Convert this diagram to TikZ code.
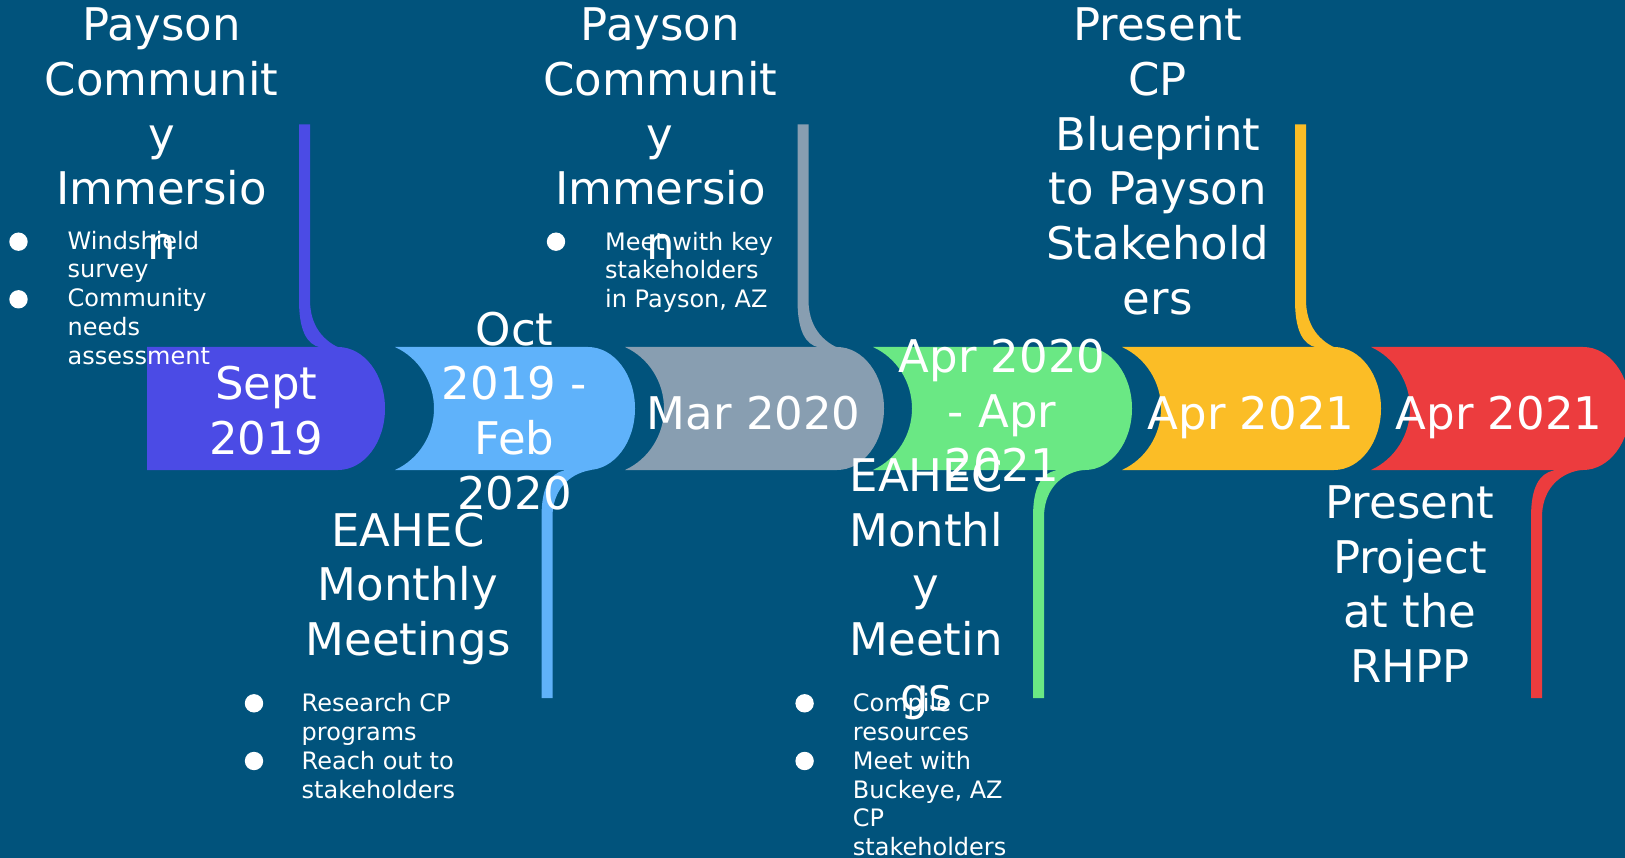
\documentclass[tikz,border=0pt]{standalone}
\usepackage{fontspec}
\setmainfont{DejaVu Sans}
\usepackage{tikz}

\definecolor{bgblue}{RGB}{1,83,124}
\definecolor{tlpurple}{RGB}{75,75,229}
\definecolor{tlblue}{RGB}{95,178,250}
\definecolor{tlgray}{RGB}{136,158,177}
\definecolor{tlgreen}{RGB}{106,232,132}
\definecolor{tlyellow}{RGB}{251,189,38}
\definecolor{tlred}{RGB}{236,60,62}

\begin{document}
\begin{tikzpicture}[x=1pt, y=-1pt]
        % Define styles
        \tikzstyle{datetext} = [text=white, align=center, inner sep=0pt,
            font=\fontsize{45}{54.7}\selectfont,
            execute at begin node=\strut, execute at end node=\strut]
        \tikzstyle{headtext} = [datetext]
        \tikzstyle{itemtext} = [text=white, align=left, inner sep=0pt, anchor=north west,
            font=\fontsize{24}{28.8}\selectfont,
            execute at begin node=\strut, execute at end node=\strut]
        \tikzstyle{bulletdot} = [circle, fill=white, inner sep=0pt, minimum size=18.4pt]

        % Background
        \fill[bgblue, use as bounding box] (0,0) rectangle (1625,858);

        % Timeline blocks
        \fill[tlpurple] (147,347) -- (147,470) -- (338,470) .. controls +(26,0) and +(0,34) .. (385,408.5)
            .. controls +(0,-34) and +(26,0) .. (338,347) -- cycle;
        \fill[tlblue] (395,347) .. controls +(24,11) and +(0,-26.3) .. (434,408.5)
            .. controls +(0,26.3) and +(24,-11) .. (395,470) -- (588,470)
            .. controls +(26,0) and +(0,34) .. (635,408.5) .. controls +(0,-34) and +(26,0) .. (588,347) -- cycle;
        \fill[tlgray] (625,347) .. controls +(24,11) and +(0,-26.3) .. (664,408.5)
            .. controls +(0,26.3) and +(24,-11) .. (625,470) -- (837,470)
            .. controls +(26,0) and +(0,34) .. (884,408.5) .. controls +(0,-34) and +(26,0) .. (837,347) -- cycle;
        \fill[tlgreen] (873,347) .. controls +(24,11) and +(0,-26.3) .. (912,408.5)
            .. controls +(0,26.3) and +(24,-11) .. (873,470) -- (1085,470)
            .. controls +(26,0) and +(0,34) .. (1132,408.5) .. controls +(0,-34) and +(26,0) .. (1085,347) -- cycle;
        \fill[tlyellow] (1122,347) .. controls +(24,11) and +(0,-26.3) .. (1161,408.5)
            .. controls +(0,26.3) and +(24,-11) .. (1122,470) -- (1334,470)
            .. controls +(26,0) and +(0,34) .. (1381,408.5) .. controls +(0,-34) and +(26,0) .. (1334,347) -- cycle;
        \fill[tlred] (1371,347) .. controls +(24,11) and +(0,-26.3) .. (1410,408.5)
            .. controls +(0,26.3) and +(24,-11) .. (1371,470) -- (1583,470)
            .. controls +(26,0) and +(0,34) .. (1630,408.5) .. controls +(0,-34) and +(26,0) .. (1583,347) -- cycle;

        % Stems going up
        \fill[tlpurple] (299,124.5) -- (299,300) .. controls +(0,30) and +(-14,-3) .. (320.5,347.5)
            -- (320.5,360) -- (344.5,360) -- (344.5,350) .. controls +(-22,-8) and +(0,25) .. (310,300)
            -- (310,124.5) -- cycle;
        \fill[tlgray] (797.5,124.5) -- (797.5,300) .. controls +(0,30) and +(-14,-3) .. (819,347.5)
            -- (819,360) -- (843,360) -- (843,350) .. controls +(-22,-8) and +(0,25) .. (808.5,300)
            -- (808.5,124.5) -- cycle;
        \fill[tlyellow] (1295,124.5) -- (1295,300) .. controls +(0,30) and +(-14,-3) .. (1316.5,347.5)
            -- (1316.5,360) -- (1340.5,360) -- (1340.5,350) .. controls +(-22,-8) and +(0,25) .. (1306,300)
            -- (1306,124.5) -- cycle;

        % Stems going down
        \fill[tlblue] (541.5,698) -- (541.5,517) .. controls +(0,-30) and +(-14,3) .. (564,470.5)
            -- (564,460) -- (591,460) -- (591,470) .. controls +(-24,4) and +(0,-25) .. (552.5,517)
            -- (552.5,698) -- cycle;
        \fill[tlgreen] (1033,698) -- (1033,517) .. controls +(0,-30) and +(-14,3) .. (1055.5,470.5)
            -- (1055.5,460) -- (1082.5,460) -- (1082.5,470) .. controls +(-24,4) and +(0,-25) .. (1044,517)
            -- (1044,698) -- cycle;
        \fill[tlred] (1531,698) -- (1531,517) .. controls +(0,-30) and +(-14,3) .. (1553.5,470.5)
            -- (1553.5,460) -- (1580.5,460) -- (1580.5,470) .. controls +(-24,4) and +(0,-25) .. (1542,517)
            -- (1542,698) -- cycle;

        % Dates
        \node [datetext] (sept) at (266.3,418.8) {Sept\\2019};
        \node [datetext] (octfeb) at (514.5,418.8) {Oct\\2019 -\\Feb\\2020};
        \node [datetext] (mar) at (753.7,418.8) {Mar 2020};
        \node [datetext] (aprapr) at (1002,418.8) {Apr 2020\\- Apr\\2021};
        \node [datetext] (aprone) at (1251,418.8) {Apr 2021};
        \node [datetext] (aprtwo) at (1499,418.8) {Apr 2021};

        % Headings
        \node [headtext, anchor=north] (immerse1) at (161.5,7.7) {Payson\\Communit\\y\\Immersio\\n};
        \node [headtext, anchor=north] (immerse2) at (660.3,7.7) {Payson\\Communit\\y\\Immersio\\n};
        \node [headtext, anchor=north] (blueprint) at (1157.8,7.7) {Present\\CP\\Blueprint\\to Payson\\Stakehold\\ers};
        \node [headtext] (meet1) at (408,592.3) {EAHEC\\Monthly\\Meetings};
        \node [headtext] (meet2) at (926.2,592.3) {EAHEC\\Monthl\\y\\Meetin\\gs};
        \node [headtext] (rhpp) at (1410,592.3) {Present\\Project\\at the\\RHPP};

        % Bullet lists
        \node [itemtext] (items1) at (67.5,230.6) {Windshield\\survey\\Community\\needs\\assessment};
        \node [itemtext] (items2) at (605,231.6) {Meet with key\\stakeholders\\in Payson, AZ};
        \node [itemtext] (items3) at (301.5,693.3) {Research CP\\programs\\Reach out to\\stakeholders};
        \node [itemtext] (items4) at (852.7,693.3) {Compile CP\\resources\\Meet with\\Buckeye, AZ\\CP\\stakeholders};

        \node [bulletdot] (dot1a) at (18.5,241.7) {};
        \node [bulletdot] (dot1b) at (18.5,299.3) {};
        \node [bulletdot] (dot2a) at (556,241.7) {};
        \node [bulletdot] (dot3a) at (254,703.3) {};
        \node [bulletdot] (dot3b) at (254,761) {};
        \node [bulletdot] (dot4a) at (804.6,703.3) {};
        \node [bulletdot] (dot4b) at (804.6,761) {};

    \end{tikzpicture}
\end{document}
